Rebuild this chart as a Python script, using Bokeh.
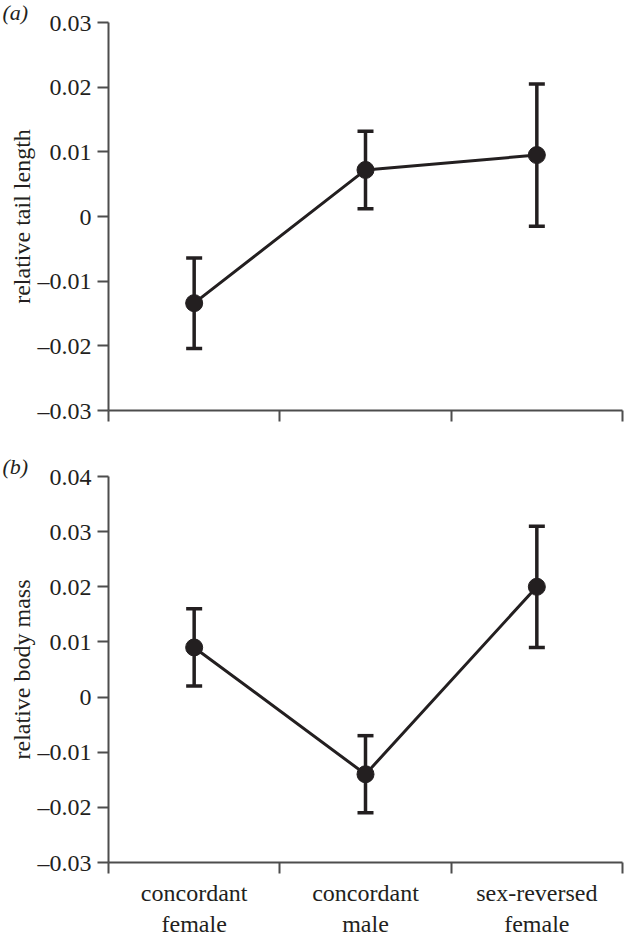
from bokeh.plotting import figure
from bokeh.layouts import column
from bokeh.models import FixedTicker, Whisker, TeeHead, ColumnDataSource, Range1d, Title
from bokeh.embed import file_html
from bokeh.resources import INLINE

# ---- data ----
categories = ["concordant\nfemale", "concordant\nmale", "sex-reversed\nfemale"]
tail_mean = [-0.0134, 0.0072, 0.0095]
tail_err = [0.0070, 0.0060, 0.0110]
mass_mean = [0.0090, -0.0140, 0.0200]
mass_err = [0.0070, 0.0070, 0.0110]
tail_ticks = [-0.03, -0.02, -0.01, 0, 0.01, 0.02, 0.03]
tail_tick_labels = ["\u20130.03", "\u20130.02", "\u20130.01", "0", "0.01", "0.02", "0.03"]
mass_ticks = [-0.03, -0.02, -0.01, 0, 0.01, 0.02, 0.03, 0.04]
mass_tick_labels = ["\u20130.03", "\u20130.02", "\u20130.01", "0", "0.01", "0.02", "0.03", "0.04"]
y_titles = ["relative tail length", "relative body mass"]
panel_labels = ["(a)", "(b)"]

INK = "#231f20"
AXIS = "#4d4d4d"
FONT = "Liberation Serif"
W = 628


def make_panel(means, errs, ticks, tick_labels, ytitle, plabel, height, top, bottom, show_x):
    n = len(categories)
    xs = [i + 0.5 for i in range(n)]
    src = ColumnDataSource(dict(
        x=xs, y=means,
        upper=[m + e for m, e in zip(means, errs)],
        lower=[m - e for m, e in zip(means, errs)],
    ))
    p = figure(width=W, height=height, output_backend="svg", toolbar_location=None,
               x_range=Range1d(0, n), y_range=Range1d(ticks[0], ticks[-1]),
               min_border_left=108, min_border_right=6,
               min_border_top=top, min_border_bottom=bottom)
    p.outline_line_color = None
    p.grid.visible = False
    p.background_fill_color = "white"
    p.border_fill_color = "white"

    p.title = Title(text=plabel, align="left", offset=-106, standoff=-5,
                    text_font=FONT, text_font_size="22px", text_font_style="italic",
                    text_color=INK)

    # y axis
    ya = p.yaxis[0]
    ya.ticker = FixedTicker(ticks=ticks, minor_ticks=[])
    ya.major_label_overrides = {t: l for t, l in zip(ticks, tick_labels)}
    ya.axis_line_color = AXIS
    ya.axis_line_width = 2
    ya.major_tick_line_color = AXIS
    ya.major_tick_line_width = 2
    ya.major_tick_out = 11
    ya.major_tick_in = 0
    ya.major_label_standoff = 6
    ya.major_label_text_font = FONT
    ya.major_label_text_font_size = "24px"
    ya.major_label_text_color = INK
    ya.axis_label = ytitle
    ya.axis_label_text_font = FONT
    ya.axis_label_text_font_size = "24px"
    ya.axis_label_text_font_style = "normal"
    ya.axis_label_text_color = INK
    ya.axis_label_standoff = 0

    # x axis: boundaries as minor ticks, labels at band centres
    xa = p.xaxis[0]
    if show_x:
        xa.ticker = FixedTicker(ticks=xs, minor_ticks=list(range(n + 1)))
        xa.major_label_overrides = {x: c for x, c in zip(xs, categories)}
    else:
        xa.ticker = FixedTicker(ticks=[], minor_ticks=list(range(n + 1)))
    xa.axis_line_color = AXIS
    xa.axis_line_width = 2
    xa.major_tick_out = 0
    xa.major_tick_in = 0
    xa.minor_tick_line_color = AXIS
    xa.minor_tick_line_width = 2
    xa.minor_tick_out = 11
    xa.minor_tick_in = 0
    xa.major_label_standoff = 6
    xa.major_label_text_font = FONT
    xa.major_label_text_font_size = "24px"
    xa.major_label_text_color = INK

    whisk = Whisker(base="x", upper="upper", lower="lower", source=src, dimension="height",
                    line_color=INK, line_width=3.5,
                    upper_head=TeeHead(size=16, line_color=INK, line_width=3.5),
                    lower_head=TeeHead(size=16, line_color=INK, line_width=3.5))
    p.add_layout(whisk)
    p.line("x", "y", source=src, line_color=INK, line_width=3)
    p.scatter("x", "y", source=src, marker="circle", size=17, fill_color=INK, line_color=INK)
    return p


H1 = 443
H2 = 498
p1 = make_panel(tail_mean, tail_err, tail_ticks, tail_tick_labels, y_titles[0], panel_labels[0],
                H1, 22, 33, False)
p2 = make_panel(mass_mean, mass_err, mass_ticks, mass_tick_labels, y_titles[1], panel_labels[1],
                H2, 33, 79, True)

layout = column(p1, p2, spacing=0)
open("out.html", "w").write(file_html(layout, INLINE))
